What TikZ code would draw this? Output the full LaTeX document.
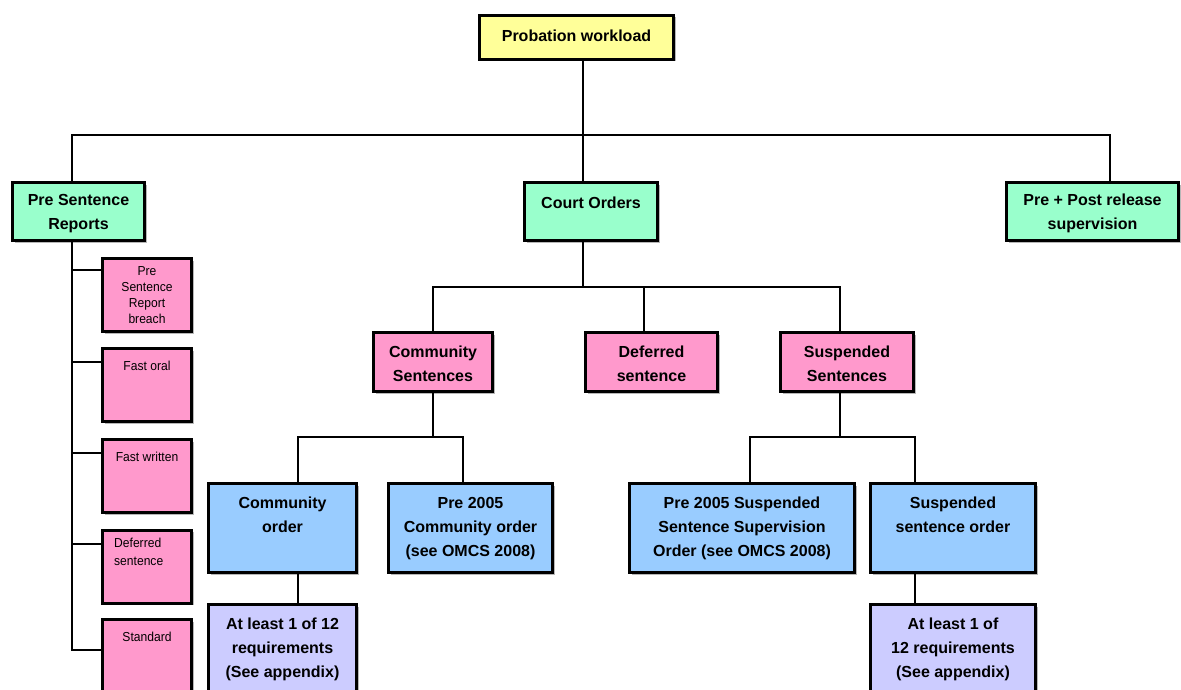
\documentclass[tikz,border=0pt]{standalone}
\usepackage{fontspec}
\setmainfont{Liberation Sans}
\newfontfamily\narrowfont[FakeStretch=0.93]{Liberation Sans}
\usepackage{tikz}
\usetikzlibrary{shadows}
\definecolor{wlyellow}{HTML}{FFFF99}
\definecolor{wlmint}{HTML}{99FFCC}
\definecolor{wlpink}{HTML}{FF99CC}
\definecolor{wlsky}{HTML}{99CCFF}
\definecolor{wllilac}{HTML}{CCCCFF}
\tikzset{
  wbox/.style={draw=black, line width=3pt, rectangle, inner sep=0pt,
    drop shadow={shadow xshift=2pt, shadow yshift=-2pt, fill=black!40, opacity=0.7}},
  wtext/.style={anchor=north, align=center, inner sep=0pt, yshift=-16pt,
    font=\bfseries\fontsize{16}{24}\selectfont},
  ptext/.style={anchor=north, align=center, inner sep=0pt, yshift=-14pt,
    font=\narrowfont\fontsize{13}{16}\selectfont},
  link/.style={draw=black, line width=2pt}
}

\begin{document}
\begin{tikzpicture}[x=1pt, y=-1pt]
\useasboundingbox (0,0) rectangle (1181,690);
\begin{scope}
\clip (0,0) rectangle (1181,690);
% top level
\node[wbox, fill=wlyellow, minimum width=194pt, minimum height=44pt,
  label={[wtext]north:Probation workload}] (work) at (576.5,37.5) {};
\node[wbox, fill=wlmint, minimum width=132pt, minimum height=58pt,
  label={[wtext, yshift=3pt]north:Pre Sentence\\Reports}] (psr) at (78.5,211.5) {};
\node[wbox, fill=wlmint, minimum width=133pt, minimum height=58pt,
  label={[wtext]north:Court Orders}] (court) at (591,211.5) {};
\node[wbox, fill=wlmint, minimum width=172pt, minimum height=58pt,
  label={[wtext, yshift=3pt]north:Pre + Post release\\supervision}] (post) at (1092.5,211.5) {};
% pre sentence reports
\node[wbox, fill=wlpink, minimum width=89pt, minimum height=73pt,
  label={[ptext, yshift=5pt]north:Pre\\Sentence\\Report\\breach}] (p1) at (147,295) {};
\node[wbox, fill=wlpink, minimum width=89pt, minimum height=73pt,
  label={[ptext]north:Fast oral}] (p2) at (147,385) {};
\node[wbox, fill=wlpink, minimum width=89pt, minimum height=73pt,
  label={[ptext]north:Fast written}] (p3) at (147,476) {};
\node[wbox, fill=wlpink, minimum width=89pt, minimum height=73pt,
  label={[ptext, anchor=north west, align=left, xshift=13pt, yshift=5pt]north west:Deferred\\[2pt]sentence}] (p4) at (147,566.5) {};
\node[wbox, fill=wlpink, minimum width=89pt, minimum height=73pt,
  label={[ptext]north:Standard}] (p5) at (147,656) {};
% court orders
\node[wbox, fill=wlpink, minimum width=119pt, minimum height=59pt,
  label={[wtext, yshift=1pt]north:Community\\Sentences}] (comsent) at (433,362) {};
\node[wbox, fill=wlpink, minimum width=132pt, minimum height=59pt,
  label={[wtext, yshift=1pt]north:Deferred\\sentence}] (defer) at (651.5,362) {};
\node[wbox, fill=wlpink, minimum width=133pt, minimum height=59pt,
  label={[wtext, yshift=1pt]north:Suspended\\Sentences}] (suspsent) at (847,362) {};
% orders
\node[wbox, fill=wlsky, minimum width=148pt, minimum height=89pt,
  label={[wtext, yshift=1pt]north:Community\\order}] (comord) at (282.5,528) {};
\node[wbox, fill=wlsky, minimum width=164pt, minimum height=89pt,
  label={[wtext, yshift=1pt]north:Pre 2005\\Community order\\(see OMCS 2008)}] (precom) at (470.5,528) {};
\node[wbox, fill=wlsky, minimum width=225pt, minimum height=89pt,
  label={[wtext, yshift=1pt]north:Pre 2005 Suspended\\Sentence Supervision\\Order (see OMCS 2008)}] (presus) at (742,528) {};
\node[wbox, fill=wlsky, minimum width=165pt, minimum height=89pt,
  label={[wtext, yshift=1pt]north:Suspended\\sentence order}] (susord) at (953,528) {};
% requirements
\node[wbox, fill=wllilac, minimum width=148pt, minimum height=89pt,
  label={[wtext, yshift=1pt]north:At least 1 of 12\\requirements\\(See appendix)}] (req1) at (282.5,649) {};
\node[wbox, fill=wllilac, minimum width=165pt, minimum height=89pt,
  label={[wtext, yshift=1pt]north:At least 1 of\\12 requirements\\(See appendix)}] (req2) at (953,649) {};

% connectors
\draw[link] ([xshift=6.5pt]work.south) -- ++(0,74);
\draw[link] ([xshift=-6.5pt]psr.north) -- ++(0,-46) -| ([xshift=17.5pt]post.north);
\draw[link] ([xshift=-8pt]court.north) -- ++(0,-46);
\foreach \b/\s in {p1/25,p2/23,p3/23,p4/22.5,p5/6}
  \draw[link] ([xshift=-6.5pt]psr.south) |- ([yshift=\s pt]\b.west);
\draw[link] ([xshift=-8pt]court.south) -- ++(0,45);
\draw[link] (comsent.north) -- ++(0,-44) -| ([xshift=-7pt]suspsent.north);
\draw[link] ([xshift=-7.5pt]defer.north) -- ++(0,-44);
\draw[link] (comsent.south) -- ++(0,44);
\draw[link] ([xshift=15.5pt]comord.north) -- ++(0,-45) -| ([xshift=-7.5pt]precom.north);
\draw[link] ([xshift=-7pt]suspsent.south) -- ++(0,44);
\draw[link] ([xshift=8pt]presus.north) -- ++(0,-45) -| ([xshift=-38pt]susord.north);
\draw[link] ([xshift=15.5pt]comord.south) -- ([xshift=15.5pt]req1.north);
\draw[link] ([xshift=-38pt]susord.south) -- ([xshift=-38pt]req2.north);
\end{scope}
\end{tikzpicture}
\end{document}
